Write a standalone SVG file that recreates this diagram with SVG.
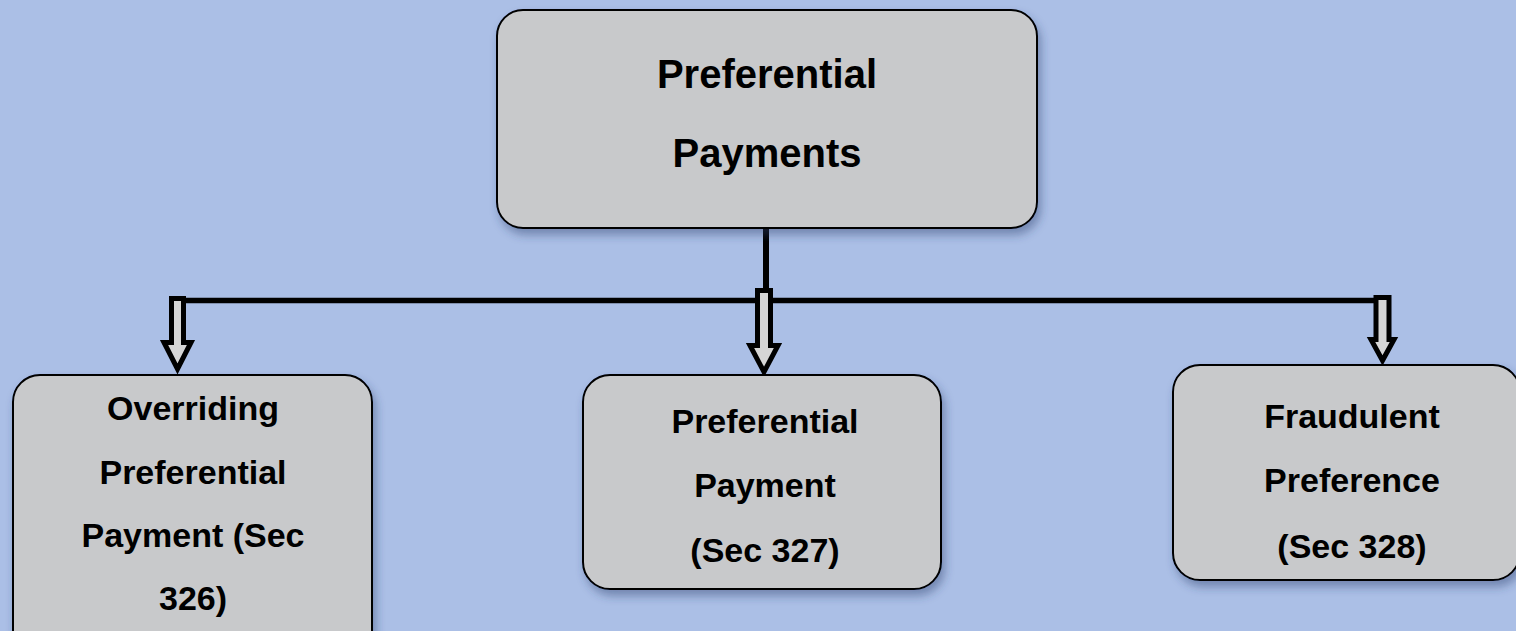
<svg xmlns="http://www.w3.org/2000/svg" width="1516" height="631" viewBox="0 0 1516 631">
<defs>
<style>
.box{fill:#c8c9cb;stroke:#000;stroke-width:2;filter:url(#sh)}
.t{font-family:"Liberation Sans",Arial,sans-serif;font-weight:bold;fill:#000;text-anchor:middle}
.big{font-size:40px}
.sm{font-size:34px}
.arr{fill:#d6d6d6;stroke:#000;stroke-width:5;stroke-linejoin:miter}
.ln{stroke:#000;fill:none}
</style>
<filter id="sh" x="-10%" y="-10%" width="130%" height="130%">
<feDropShadow dx="3" dy="6" stdDeviation="5" flood-color="#2e4270" flood-opacity="0.45"/>
</filter>
</defs>
<rect width="1516" height="631" fill="#abbfe6"/>
<g id="connectors">
<line class="ln" x1="766" y1="229" x2="766" y2="290" stroke-width="6"/>
<line class="ln" x1="170" y1="300.5" x2="1376" y2="300.5" stroke-width="5.5"/>
<path class="arr" d="M171.5,298.5 H183.5 V342.5 H191 L177.5,369 L164,342.5 H171.5 Z"/>
<path class="arr" d="M757.5,290.5 H770.5 V345.5 H778 L764,372 L750,345.5 H757.5 Z"/>
<path class="arr" d="M1376,297.5 H1389 V339.5 H1394 L1382.5,360.5 L1371,339.5 H1376 Z"/>
</g>
<g id="node-top">
<rect class="box" x="497" y="10" width="540" height="218" rx="26" ry="26"/>
<text class="t big" x="767" y="88">Preferential</text>
<text class="t big" x="767" y="167">Payments</text>
</g>
<g id="node-left">
<rect class="box" x="13" y="375" width="359" height="285" rx="27" ry="27"/>
<text class="t sm" x="193" y="420">Overriding</text>
<text class="t sm" x="193" y="484">Preferential</text>
<text class="t sm" x="193" y="547">Payment (Sec</text>
<text class="t sm" x="193" y="610">326)</text>
</g>
<g id="node-middle">
<rect class="box" x="583" y="375" width="358" height="214" rx="27" ry="27"/>
<text class="t sm" x="765" y="433">Preferential</text>
<text class="t sm" x="765" y="497">Payment</text>
<text class="t sm" x="765" y="562">(Sec 327)</text>
</g>
<g id="node-right">
<rect class="box" x="1173" y="365" width="347" height="215" rx="27" ry="27"/>
<text class="t sm" x="1352" y="428">Fraudulent</text>
<text class="t sm" x="1352" y="492">Preference</text>
<text class="t sm" x="1352" y="558">(Sec 328)</text>
</g>
</svg>
